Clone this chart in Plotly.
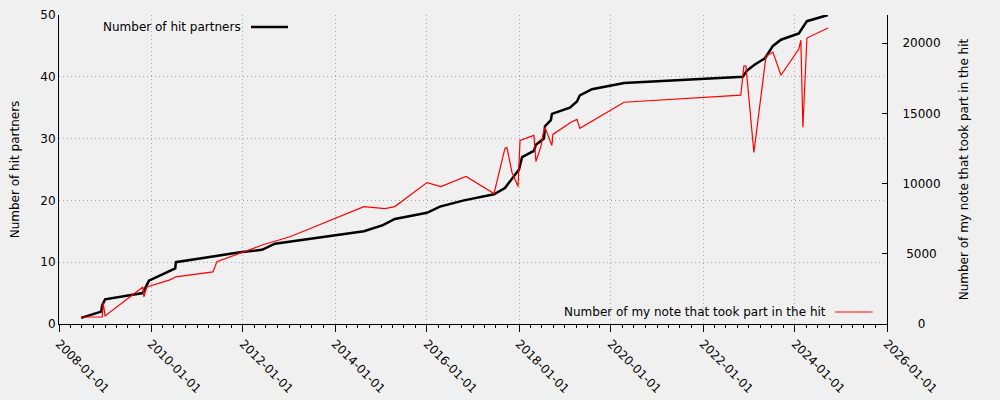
import plotly.graph_objects as go

partner_dates = ["2008-06-25", "2008-12-01", "2008-12-09", "2009-01-01", "2009-10-28", "2009-12-15",
                 "2010-07-12", "2010-07-17", "2011-12-08", "2012-05-31", "2012-09-11", "2014-08-18",
                 "2015-01-16", "2015-04-21", "2016-01-01", "2016-04-13", "2016-10-21", "2017-06-16",
                 "2017-09-11", "2017-11-06", "2018-01-01", "2018-01-25", "2018-04-29", "2018-05-15",
                 "2018-07-18", "2018-07-26", "2018-09-11", "2018-09-19", "2019-02-09", "2019-04-06",
                 "2019-04-29", "2019-08-03", "2020-04-14", "2022-11-13", "2022-12-16", "2023-02-17",
                 "2023-05-08", "2023-07-10", "2023-09-12", "2024-02-01", "2024-04-05", "2024-09-19"]
partner_counts = [1, 2, 3, 4, 5, 7,
                  9, 10, 11.6, 12, 13, 15,
                  16, 17, 18, 19, 20, 21,
                  22, 23.5, 25, 27, 28, 29,
                  30, 32, 33, 34, 35, 36,
                  37, 38, 39, 40, 41, 42,
                  43, 45, 46, 47, 49, 50]

note_dates = ["2008-06-25", "2008-12-09", "2008-12-17", "2009-01-01", "2009-10-28", "2009-11-05",
              "2009-11-29", "2010-05-31", "2010-07-17", "2011-05-07", "2011-06-08", "2012-06-08",
              "2013-01-08", "2014-08-18", "2015-02-01", "2015-04-21", "2016-01-01", "2016-04-21",
              "2016-11-06", "2017-06-16", "2017-09-11", "2017-09-27", "2017-11-06", "2017-12-24",
              "2018-01-09", "2018-04-29", "2018-05-15", "2018-06-24", "2018-07-10", "2018-07-26",
              "2018-09-19", "2018-09-27", "2019-02-17", "2019-04-06", "2019-04-29", "2019-08-03",
              "2020-04-14", "2022-10-28", "2022-11-21", "2022-12-08", "2023-02-09", "2023-05-16",
              "2023-07-10", "2023-09-12", "2024-02-01", "2024-02-17", "2024-03-04", "2024-04-05",
              "2024-09-19"]
note_counts = [500, 500, 1500, 570, 2640, 1930,
               2640, 3140, 3360, 3710, 4430, 5640,
               6210, 8360, 8210, 8360, 10070, 9790,
               10500, 9290, 12500, 12570, 10790, 9790,
               13070, 13430, 11570, 12640, 13500, 14000,
               12710, 13500, 14360, 14570, 13930, 14430,
               15790, 16290, 18360, 18360, 12210, 19070,
               19360, 17710, 19570, 20210, 14000, 20360,
               21070]

right_tick_vals = [0, 5000, 10000, 15000, 20000]
right_tick_text = ["0", "5000", "10000", "15000", "20000"]

left_title = "Number of hit partners"
right_title = "Number of my note that took part in the hit"

FONT = "DejaVu Sans"
BG = "#f0f0f0"
GRID = "#a8a8a8"
DOTS = "1px,3px"

# centre the right-hand tick labels by padding with non-breaking spaces (1 digit ~ 2 spaces)
maxlen = max(len(t) for t in right_tick_text)
padded = ["\u00a0" * (maxlen - len(t)) + t for t in right_tick_text]

fig = go.Figure()
fig.add_trace(go.Scatter(x=note_dates, y=note_counts, mode="lines", yaxis="y2",
                         line=dict(color="#ff0000", width=1.2), showlegend=False))
fig.add_trace(go.Scatter(x=partner_dates, y=partner_counts, mode="lines", yaxis="y",
                         line=dict(color="#000000", width=2.5), showlegend=False))

fig.update_layout(
    width=1000, height=400,
    margin=dict(l=59, r=113, t=15, b=76),
    paper_bgcolor=BG, plot_bgcolor=BG,
    font=dict(family=FONT, size=12, color="#000"),
    xaxis=dict(
        type="date", range=["2008-01-01", "2026-01-01"], automargin=False,
        tick0="2008-01-01", dtick="M24", tickformat="%Y-%m-%d", tickangle=45,
        ticks="outside", ticklen=7, tickcolor="#000",
        showline=True, linecolor="#000", linewidth=1,
        showgrid=True, gridcolor=GRID, griddash=DOTS, gridwidth=1,
        minor=dict(dtick="M3", ticks="outside", ticklen=3, tickcolor="#000", showgrid=False),
        zeroline=False,
    ),
    yaxis=dict(
        range=[0, 50], dtick=10, tick0=0, automargin=False,
        showline=True, linecolor="#000", linewidth=1, ticks="",
        showgrid=True, gridcolor=GRID, griddash=DOTS, gridwidth=1,
        zeroline=False,
        title=dict(text=left_title, font=dict(size=12), standoff=18),
    ),
    yaxis2=dict(
        overlaying="y", side="right", range=[0, 22000],
        tickmode="array", tickvals=right_tick_vals, ticktext=padded,
        automargin=False, ticklabelstandoff=12,
        showline=True, linecolor="#000", linewidth=1,
        ticks="inside", ticklen=5, tickcolor="#000",
        showgrid=False, zeroline=False,
        title=dict(text=right_title, font=dict(size=12), standoff=20),
    ),
    annotations=[
        dict(text=left_title, xref="paper", yref="paper", x=0.2222, y=0.961,
             xanchor="right", yanchor="middle", showarrow=False, font=dict(size=12)),
        dict(text=right_title, xref="paper", yref="paper", x=0.9287, y=0.0388,
             xanchor="right", yanchor="middle", showarrow=False, font=dict(size=12)),
    ],
    shapes=[
        dict(type="line", xref="paper", yref="paper", x0=0.2319, x1=0.2766, y0=0.961, y1=0.961,
             line=dict(color="#000", width=2.5)),
        dict(type="line", xref="paper", yref="paper", x0=0.9372, x1=0.9827, y0=0.0388, y1=0.0388,
             line=dict(color="#ff0000", width=1.2)),
    ],
)

fig.write_html("out.html")
